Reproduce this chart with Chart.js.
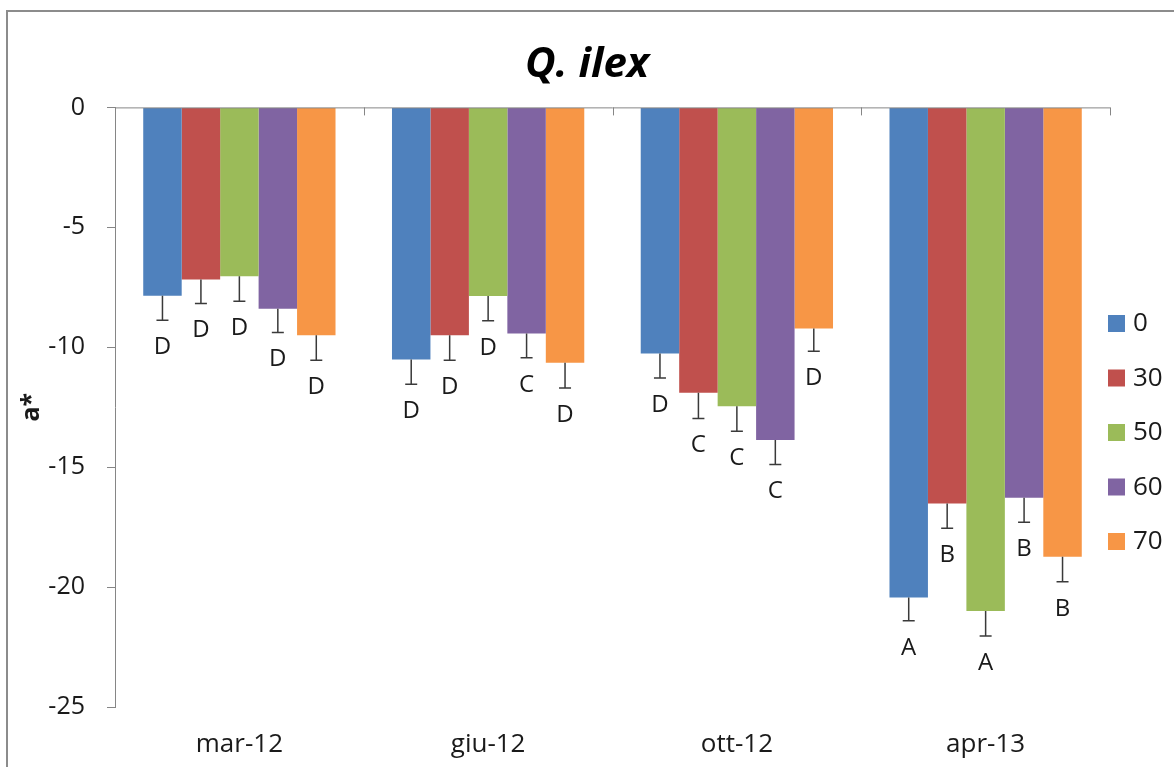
<!DOCTYPE html>
<html>
<head>
<meta charset="utf-8">
<script src="https://cdn.jsdelivr.net/npm/chart.js@4.4.1/dist/chart.umd.min.js"></script>
<style>
  html, body { margin: 0; padding: 0; background: #fff; overflow: hidden; }
  #wrap { position: relative; width: 1174px; height: 767px; }
  #frame { position: absolute; left: 6px; top: 10px; width: 1300px; height: 900px; border: 2px solid #8c8c8c; }
  #chart { position: absolute; left: 0; top: 0; }
</style>
</head>
<body>
<div id="wrap">
  <div id="frame"></div>
  <canvas id="chart" width="1174" height="767"></canvas>
</div>
<script>
// ---- data ----
const categories = ['mar-12', 'giu-12', 'ott-12', 'apr-13'];
const seriesNames = ['0', '30', '50', '60', '70'];

const s0  = [-7.85, -10.51, -10.26, -20.43];
const s30 = [-7.18,  -9.50, -11.90, -16.51];
const s50 = [-7.04,  -7.86, -12.46, -21.00];
const s60 = [-8.39,  -9.43, -13.87, -16.28];
const s70 = [-9.50, -10.65,  -9.22, -18.74];

const e0  = [1.02, 1.03, 1.02, 0.97];
const e30 = [1.00, 1.04, 1.07, 1.04];
const e50 = [1.04, 1.04, 1.04, 1.04];
const e60 = [1.00, 1.01, 1.02, 1.02];
const e70 = [1.04, 1.05, 0.95, 1.04];

const l0  = ['D', 'D', 'D', 'A'];
const l30 = ['D', 'D', 'C', 'B'];
const l50 = ['D', 'D', 'C', 'A'];
const l60 = ['D', 'C', 'C', 'B'];
const l70 = ['D', 'D', 'D', 'B'];

const yTicks = [0, -5, -10, -15, -20, -25];

const colors = ['#4F81BD', '#C0504D', '#9BBB59', '#8064A2', '#F79646'];
const FONT = '"Open Sans", "Liberation Sans", sans-serif';
const AXIS_GREY = '#868686';

const values = [s0, s30, s50, s60, s70];
const errors = [e0, e30, e50, e60, e70];
const letters = [l0, l30, l50, l60, l70];

// error bars (downward only) + significance letters
const errorBars = {
  id: 'errorBars',
  afterDatasetsDraw(chart) {
    const ctx = chart.ctx;
    const y = chart.scales.y;
    ctx.save();
    chart.data.datasets.forEach((ds, di) => {
      const meta = chart.getDatasetMeta(di);
      meta.data.forEach((bar, i) => {
        const v = ds.data[i];
        const yEnd = y.getPixelForValue(v - errors[di][i]);
        ctx.strokeStyle = '#3a3a3a';
        ctx.lineWidth = 1.5;
        ctx.beginPath();
        ctx.moveTo(bar.x, bar.y);
        ctx.lineTo(bar.x, yEnd);
        ctx.moveTo(bar.x - 6, yEnd);
        ctx.lineTo(bar.x + 6, yEnd);
        ctx.stroke();
        ctx.fillStyle = '#1a1a1a';
        ctx.font = '24px ' + FONT;
        ctx.textAlign = 'center';
        ctx.textBaseline = 'middle';
        ctx.fillText(letters[di][i], bar.x, yEnd + 27);
      });
    });
    ctx.restore();
  }
};

// horizontal axis line at zero with category tick marks
const zeroAxis = {
  id: 'zeroAxis',
  afterDatasetsDraw(chart) {
    const ctx = chart.ctx;
    const x = chart.scales.x;
    const y0 = chart.scales.y.getPixelForValue(0);
    const half = (x.getPixelForValue(1) - x.getPixelForValue(0)) / 2;
    ctx.save();
    ctx.strokeStyle = AXIS_GREY;
    ctx.lineWidth = 1;
    ctx.beginPath();
    ctx.moveTo(chart.chartArea.left, y0 + 0.5);
    ctx.lineTo(chart.chartArea.right, y0 + 0.5);
    categories.forEach((c, i) => {
      const bx = Math.round(x.getPixelForValue(i) + half) + 0.5;
      ctx.moveTo(bx, y0);
      ctx.lineTo(bx, y0 + 8);
    });
    ctx.stroke();
    ctx.restore();
  }
};

// legend on the right like the Excel one
const sideLegend = {
  id: 'sideLegend',
  afterDraw(chart) {
    const ctx = chart.ctx;
    ctx.save();
    ctx.font = '26px ' + FONT;
    ctx.textAlign = 'left';
    ctx.textBaseline = 'middle';
    seriesNames.forEach((name, i) => {
      const cy = 323 + i * 54.5;
      ctx.fillStyle = colors[i];
      ctx.fillRect(1108, cy - 8, 17, 17);
      ctx.fillStyle = '#1a1a1a';
      ctx.fillText(name, 1133, cy + 1);
    });
    ctx.restore();
  }
};

new Chart(document.getElementById('chart'), {
  type: 'bar',
  data: {
    labels: categories,
    datasets: seriesNames.map((name, i) => ({
      label: name,
      data: values[i],
      backgroundColor: colors[i],
      borderWidth: 0,
      categoryPercentage: 0.773,
      barPercentage: 1.0
    }))
  },
  options: {
    responsive: false,
    animation: false,
    layout: { padding: 0 },
    scales: {
      x: {
        position: 'bottom',
        grid: { display: false, drawTicks: false },
        border: { display: false },
        ticks: { color: '#1a1a1a', font: { family: FONT, size: 26 }, padding: 22 },
        afterFit(scale) { scale.height = 60; }
      },
      y: {
        min: -25,
        max: 0,
        afterBuildTicks(scale) { scale.ticks = yTicks.map(v => ({ value: v })); },
        grid: { drawOnChartArea: false, drawTicks: true, tickLength: 8, color: AXIS_GREY },
        border: { display: true, color: AXIS_GREY },
        ticks: { color: '#1a1a1a', font: { family: FONT, size: 25 }, padding: 22 },
        title: {
          display: true,
          text: 'a*',
          color: '#1a1a1a',
          font: { family: FONT, size: 25, weight: 'bold' },
          padding: { top: 17, bottom: 0 }
        },
        afterFit(scale) { scale.width = 115; }
      },
      // empty right-hand box that leaves room for the legend
      yRight: {
        position: 'right',
        display: true,
        grid: { display: false, drawTicks: false },
        border: { display: false },
        ticks: { display: false },
        afterFit(scale) { scale.width = 64; }
      }
    },
    plugins: {
      legend: { display: false },
      tooltip: { enabled: false },
      title: {
        display: true,
        text: 'Q. ilex',
        color: '#000',
        font: { family: FONT, size: 42, weight: 'bold', style: 'italic' },
        padding: { top: 40, bottom: 17 }
      }
    }
  },
  plugins: [errorBars, zeroAxis, sideLegend]
});
</script>
</body>
</html>
